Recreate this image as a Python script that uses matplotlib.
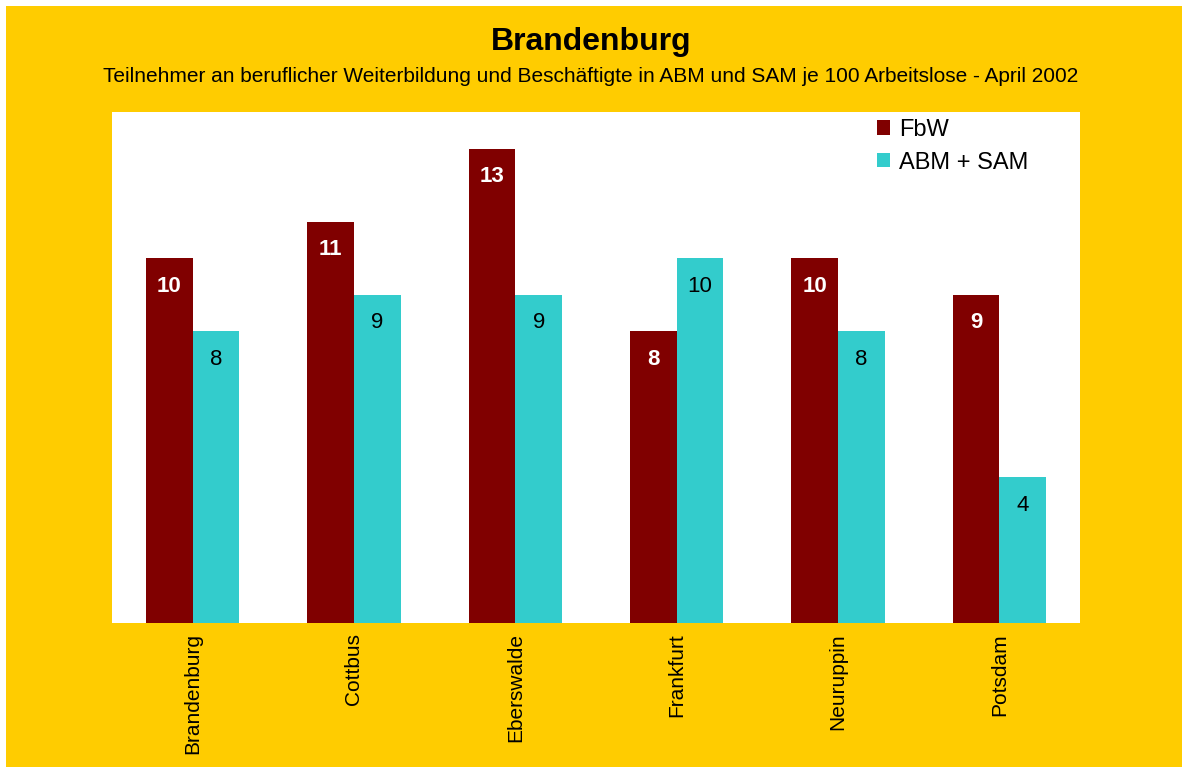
import matplotlib.pyplot as plt
import numpy as np
from matplotlib.patches import Rectangle

regions = ["Brandenburg", "Cottbus", "Eberswalde", "Frankfurt", "Neuruppin", "Potsdam"]
fbw = [10, 11, 13, 8, 10, 9]
abm_sam = [8, 9, 9, 10, 8, 4]

plt.rcParams["font.family"] = ["Liberation Sans", "DejaVu Sans"]

fig = plt.figure(figsize=(11.82, 7.67), dpi=100, facecolor="white")
fig.patches.append(Rectangle((6 / 1182, 0), 1, 761 / 767, transform=fig.transFigure,
                             facecolor="#FFCC00", edgecolor="none", zorder=-1))

ax = fig.add_axes([112 / 1182, 1 - 623 / 767, 968 / 1182, 511 / 767])
ax.set_facecolor("white")

x = np.arange(len(regions))
w = 0.29
b1 = ax.bar(x - w / 2, fbw, w, color="#800000", label="FbW")
b2 = ax.bar(x + w / 2, abm_sam, w, color="#33CCCC", label="ABM + SAM")

for r, v in zip(b1, fbw):
    ax.text(r.get_x() + r.get_width() / 2, v - 0.77, str(v), ha="center", va="center",
            color="white", fontsize=16, fontweight="bold")
for r, v in zip(b2, abm_sam):
    ax.text(r.get_x() + r.get_width() / 2, v - 0.77, str(v), ha="center", va="center",
            color="black", fontsize=16)

ax.set_xlim(-0.5, len(regions) - 0.5)
ax.set_ylim(0, 14)
ax.set_yticks([])
ax.set_xticks(x)
ax.set_xticklabels(regions, rotation=90, fontsize=15)
ax.tick_params(axis="x", length=0, pad=7.5)
for s in ax.spines.values():
    s.set_visible(False)

ax.legend(loc="upper left", bbox_to_anchor=(0.768, 1.028), frameon=False, fontsize=17,
          handlelength=0.55, handleheight=0.55, handletextpad=0.4, labelspacing=0.45)

fig.text(0.5, 1 - 42 / 767, "Brandenburg", ha="center", va="center",
         fontsize=23, fontweight="bold")
fig.text(0.5, 1 - 77 / 767,
         "Teilnehmer an beruflicher Weiterbildung und Beschäftigte in ABM und SAM je 100 Arbeitslose - April 2002",
         ha="center", va="center", fontsize=15)

fig.savefig("out.png", dpi=100, facecolor=fig.get_facecolor())
